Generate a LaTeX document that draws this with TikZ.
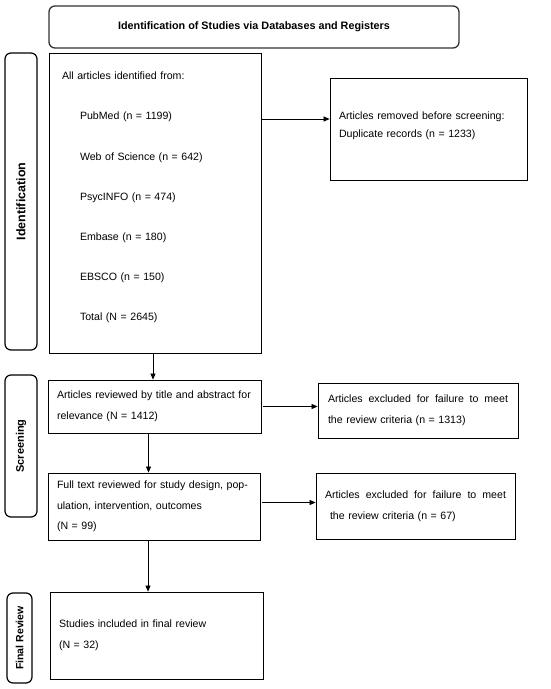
\documentclass[tikz,border=0pt]{standalone}
\usepackage{fontspec}
\setmainfont{Liberation Sans}
\usetikzlibrary{arrows.meta}

\begin{document}
\begin{tikzpicture}[x=1pt, y=-1pt,
    caja/.style={draw, line width=0.8pt, inner ysep=0pt, inner xsep=9pt, align=left,
                 font=\fontsize{10.6}{21}\selectfont},
    fase/.style={draw, line width=1.2pt, rounded corners=6pt, inner sep=0pt, rotate=90},
    flecha/.style={-{Triangle[length=6pt, width=5pt]}, line width=0.7pt}]
    \useasboundingbox (0,0) rectangle (550,689);

    % Titulo
    \node[draw=black!80, line width=1.3pt, rounded corners=6pt, minimum width=410pt, minimum height=42pt,
          font=\bfseries\fontsize{10.8}{13}\selectfont] (titulo) at (254,27)
          {Identification of Studies via Databases and Registers};

    % Fases
    \node[fase, minimum width=297pt, minimum height=32pt, font=\bfseries\fontsize{12.5}{14}\selectfont]
          (faseA) at (21,201.5) {Identification};
    \node[fase, minimum width=142pt, minimum height=32pt, font=\bfseries\fontsize{11}{13}\selectfont]
          (faseB) at (21,446) {Screening};
    \node[fase, minimum width=90pt, minimum height=25pt, font=\bfseries\fontsize{10.5}{12}\selectfont]
          (faseC) at (19.5,638) {Final Review};

    % Cajas
    \node[caja, text width=186pt, inner xsep=13pt, minimum height=300pt,
          font=\fontsize{10.6}{40.2}\selectfont] (todos) at (155,203)
          {All articles identified from:\\
           \hspace*{18pt}PubMed (n = 1199)\\
           \hspace*{18pt}Web of Science (n = 642)\\
           \hspace*{18pt}PsycINFO (n = 474)\\
           \hspace*{18pt}Embase (n = 180)\\
           \hspace*{18pt}EBSCO (n = 150)\\
           \hspace*{18pt}Total (N = 2645)\\[-27pt]\mbox{}};
    \node[caja, text width=179pt, minimum height=102pt,
          font=\fontsize{10.6}{18.5}\selectfont] (removidos) at (428.5,129)
          {Articles removed before screening:\\ Duplicate records (n = 1233)\\[-10pt]\mbox{}};
    \node[caja, text width=195pt, minimum height=53pt] (revisados) at (154.5,406.5)
          {Articles reviewed by title and abstract for\\ relevance (N = 1412)};
    \node[caja, text width=180pt, inner xsep=10pt, minimum height=55pt] (excluidosA) at (418,410.5)
          {\makebox[180pt][l]{Articles\hfill excluded\hfill for\hfill failure\hfill to\hfill meet}\\
           the review criteria (n = 1313)};
    \node[caja, text width=194pt, minimum height=67pt,
          font=\fontsize{10.6}{20.5}\selectfont] (completos) at (154,506.5)
          {Full text reviewed for study design, pop-\\ ulation, intervention, outcomes\\ (N = 99)};
    \node[caja, text width=181pt, minimum height=66pt] (excluidosB) at (415.5,506)
          {\makebox[181pt][l]{Articles\hfill excluded\hfill for\hfill failure\hfill to\hfill meet}\\
           \hspace*{5pt}the review criteria (n = 67)};
    \node[caja, text width=195pt, minimum height=87pt] (incluidos) at (156.5,635.5)
          {Studies included in final review\\ (N = 32)};

    % Flechas
    \coordinate (entradaA) at ([yshift=10pt]removidos.west);
    \draw[flecha] (todos.east |- entradaA) -- (entradaA);
    \draw[flecha] ([xshift=-2pt]todos.south) -- ([xshift=-2pt]todos.south |- revisados.north);
    \draw[flecha] ([xshift=2pt]revisados.east) -- (revisados.east -| excluidosA.west);
    \draw[flecha] ([xshift=-6pt]revisados.south) -- ([xshift=-6pt]revisados.south |- completos.north);
    \draw[flecha] ([xshift=2pt,yshift=4pt]completos.east) -- ([yshift=4pt]completos.east -| excluidosB.west);
    \draw[flecha] ([xshift=-6pt]completos.south) -- ([xshift=-6pt]completos.south |- incluidos.north);
\end{tikzpicture}
\end{document}
